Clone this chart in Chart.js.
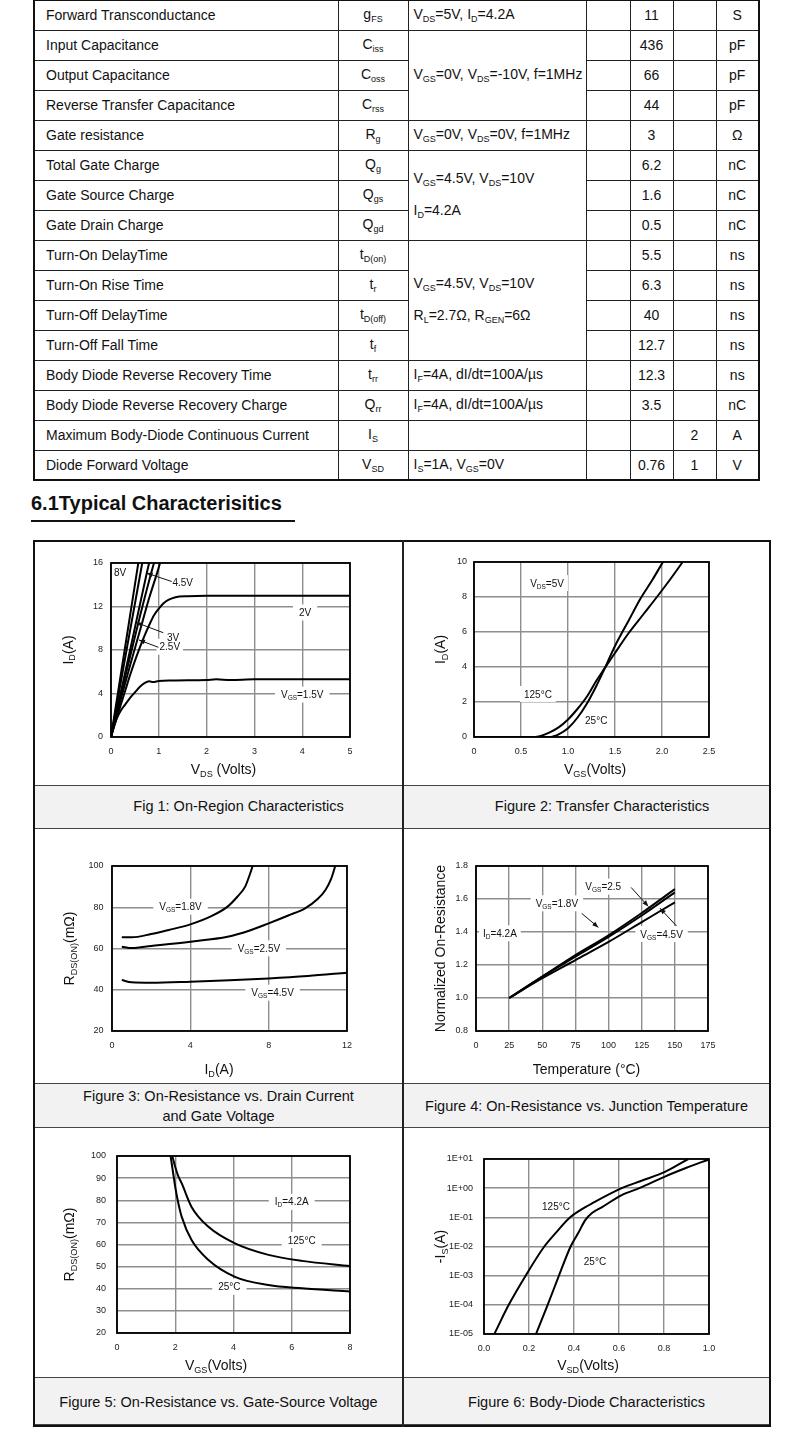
<!DOCTYPE html>
<html><head><meta charset="utf-8">
<script src="https://cdn.jsdelivr.net/npm/chart.js@4.4.0/dist/chart.umd.min.js"></script>
<style>
html,body{margin:0;padding:0;background:#fff;}
body{width:790px;height:1436px;position:relative;overflow:hidden;font-family:'Liberation Sans',Arial,Helvetica,sans-serif;color:#111;}
table.spec{position:absolute;left:33px;top:-1px;border-collapse:collapse;table-layout:fixed;font-size:14px;border:2px solid #111;}
table.spec td{border:1px solid #222;padding:0;white-space:nowrap;line-height:16px;}
table.spec tr{height:30px;}
td.n{padding-left:11px !important;}
td.c{text-align:center;}
td.k{padding-left:5px !important;}
.s{font-size:9px;position:relative;top:3px;}
.ml{line-height:30px !important;}
#h{position:absolute;left:31px;top:492px;font-size:20px;font-weight:bold;line-height:22px;}
#hu{position:absolute;left:31px;top:520px;width:264px;height:2px;background:#111;}
#grid{position:absolute;left:33px;top:540px;width:738px;height:887px;border:2px solid #111;box-sizing:border-box;}
#vdiv{position:absolute;left:402px;top:540px;width:2px;height:887px;background:#222;}
.band{position:absolute;left:35px;width:734px;background:#f2f2f2;border-top:1px solid #444;border-bottom:1px solid #444;box-sizing:border-box;}
.cap{position:absolute;text-align:center;font-size:14.5px;line-height:20px;}
canvas{position:absolute;}
</style></head>
<body>
<table class="spec">
<colgroup><col style="width:304px"><col style="width:70px"><col style="width:178px"><col style="width:44px"><col style="width:43px"><col style="width:43px"><col style="width:43px"></colgroup>
<tr><td class="n">Forward Transconductance</td><td class="c">g<span class="s">FS</span></td><td class="k">V<span class="s">DS</span>=5V, I<span class="s">D</span>=4.2A</td><td></td><td class="c">11</td><td></td><td class="c">S</td></tr>
<tr><td class="n">Input Capacitance</td><td class="c">C<span class="s">iss</span></td><td class="k" rowspan="3">V<span class="s">GS</span>=0V, V<span class="s">DS</span>=-10V, f=1MHz</td><td></td><td class="c">436</td><td></td><td class="c">pF</td></tr>
<tr><td class="n">Output Capacitance</td><td class="c">C<span class="s">oss</span></td><td></td><td class="c">66</td><td></td><td class="c">pF</td></tr>
<tr><td class="n">Reverse Transfer Capacitance</td><td class="c">C<span class="s">rss</span></td><td></td><td class="c">44</td><td></td><td class="c">pF</td></tr>
<tr><td class="n">Gate resistance</td><td class="c">R<span class="s">g</span></td><td class="k">V<span class="s">GS</span>=0V, V<span class="s">DS</span>=0V, f=1MHz</td><td></td><td class="c">3</td><td></td><td class="c">Ω</td></tr>
<tr><td class="n">Total Gate Charge</td><td class="c">Q<span class="s">g</span></td><td class="k" rowspan="3"><div class="ml">V<span class="s">GS</span>=4.5V, V<span class="s">DS</span>=10V<br>I<span class="s">D</span>=4.2A</div></td><td></td><td class="c">6.2</td><td></td><td class="c">nC</td></tr>
<tr><td class="n">Gate Source Charge</td><td class="c">Q<span class="s">gs</span></td><td></td><td class="c">1.6</td><td></td><td class="c">nC</td></tr>
<tr><td class="n">Gate Drain Charge</td><td class="c">Q<span class="s">gd</span></td><td></td><td class="c">0.5</td><td></td><td class="c">nC</td></tr>
<tr><td class="n">Turn-On DelayTime</td><td class="c">t<span class="s">D(on)</span></td><td class="k" rowspan="4"><div class="ml">V<span class="s">GS</span>=4.5V, V<span class="s">DS</span>=10V<br>R<span class="s">L</span>=2.7Ω, R<span class="s">GEN</span>=6Ω</div></td><td></td><td class="c">5.5</td><td></td><td class="c">ns</td></tr>
<tr><td class="n">Turn-On Rise Time</td><td class="c">t<span class="s">r</span></td><td></td><td class="c">6.3</td><td></td><td class="c">ns</td></tr>
<tr><td class="n">Turn-Off DelayTime</td><td class="c">t<span class="s">D(off)</span></td><td></td><td class="c">40</td><td></td><td class="c">ns</td></tr>
<tr><td class="n">Turn-Off Fall Time</td><td class="c">t<span class="s">f</span></td><td></td><td class="c">12.7</td><td></td><td class="c">ns</td></tr>
<tr><td class="n">Body Diode Reverse Recovery Time</td><td class="c">t<span class="s">rr</span></td><td class="k">I<span class="s">F</span>=4A, dI/dt=100A/µs</td><td></td><td class="c">12.3</td><td></td><td class="c">ns</td></tr>
<tr><td class="n">Body Diode Reverse Recovery Charge</td><td class="c">Q<span class="s">rr</span></td><td class="k">I<span class="s">F</span>=4A, dI/dt=100A/µs</td><td></td><td class="c">3.5</td><td></td><td class="c">nC</td></tr>
<tr><td class="n">Maximum Body-Diode Continuous Current</td><td class="c">I<span class="s">S</span></td><td></td><td></td><td></td><td class="c">2</td><td class="c">A</td></tr>
<tr><td class="n">Diode Forward Voltage</td><td class="c">V<span class="s">SD</span></td><td class="k">I<span class="s">S</span>=1A, V<span class="s">GS</span>=0V</td><td></td><td class="c">0.76</td><td class="c">1</td><td class="c">V</td></tr>
</table>

<div id="h">6.1Typical Characterisitics</div>
<div id="hu"></div>

<div id="grid"></div>
<div class="band" style="top:785px;height:44px"></div>
<div class="band" style="top:1083px;height:45px"></div>
<div class="band" style="top:1377px;height:48px"></div>
<div id="vdiv"></div>

<canvas id="c1" width="367" height="243" style="left:35px;top:542px"></canvas>
<canvas id="c2" width="364" height="243" style="left:404px;top:542px"></canvas>
<canvas id="c3" width="367" height="254" style="left:35px;top:829px"></canvas>
<canvas id="c4" width="364" height="254" style="left:404px;top:829px"></canvas>
<canvas id="c5" width="367" height="249" style="left:35px;top:1128px"></canvas>
<canvas id="c6" width="364" height="249" style="left:404px;top:1128px"></canvas>

<div class="cap" style="left:35px;width:407px;top:796px">Fig 1: On-Region Characteristics</div>
<div class="cap" style="left:404px;width:396px;top:796px">Figure 2: Transfer Characteristics</div>
<div class="cap" style="left:35px;width:367px;top:1086px">Figure 3: On-Resistance vs. Drain Current<br>and Gate Voltage</div>
<div class="cap" style="left:404px;width:365px;top:1096px">Figure 4: On-Resistance vs. Junction Temperature</div>
<div class="cap" style="left:35px;width:367px;top:1392px">Figure 5: On-Resistance vs. Gate-Source Voltage</div>
<div class="cap" style="left:404px;width:365px;top:1392px">Figure 6: Body-Diode Characteristics</div>

<script>
// ---------- Figure 1: On-Region Characteristics (VDS [V], ID [A]) ----------
const fig1_vgs8   = [[0,0],[0.3,8.4],[0.6,16.8]];
const fig1_vgsUnl = [[0,0],[0.33,8.1],[0.67,16.4]];
const fig1_vgs45  = [[0,0],[0.4,8.0],[0.75,15.1],[0.82,16.4]];
const fig1_vgs3   = [[0,0],[0.3,5.6],[0.6,11],[0.9,16],[0.93,16.4]];
const fig1_vgs25  = [[0,0],[0.2,3.4],[0.4,6.6],[0.6,9.7],[0.8,12.8],[1.0,15.6],[1.05,16.4]];
const fig1_vgs2   = [[0,0],[0.1,1.5],[0.2,2.9],[0.3,4.3],[0.4,5.7],[0.5,7.0],[0.6,8.2],[0.7,9.3],[0.8,10.3],[0.9,11.2],[1.0,11.8],[1.1,12.3],[1.2,12.6],[1.35,12.85],[1.6,12.95],[2,13],[3,13],[4,13],[5,13]];
const fig1_vgs15  = [[0,0],[0.05,0.8],[0.12,1.7],[0.2,2.4],[0.3,3.0],[0.4,3.6],[0.5,4.1],[0.6,4.6],[0.7,4.95],[0.8,5.12],[0.88,5.05],[1.0,5.15],[1.3,5.2],[2,5.25],[2.2,5.3],[2.5,5.25],[3,5.3],[4,5.3],[5,5.3]];

// ---------- Figure 2: Transfer Characteristics (VGS [V], ID [A]) ----------
const fig2_t125 = [[0,0],[0.6,0],[0.7,0.05],[0.8,0.25],[0.9,0.55],[1.0,1.0],[1.1,1.6],[1.2,2.3],[1.3,3.2],[1.38,3.85],[1.5,4.8],[1.64,5.9],[1.8,7.0],[1.96,8.1],[2.1,9.1],[2.22,10]];
const fig2_t25  = [[0,0],[0.8,0],[0.85,0.05],[0.9,0.15],[1.0,0.5],[1.1,1.1],[1.2,1.9],[1.3,2.9],[1.38,3.8],[1.5,5.2],[1.65,6.7],[1.77,7.9],[1.9,9.0],[2.01,10]];

// ---------- Figure 3: RDS(ON) vs ID (ID [A], R [mΩ]) ----------
const fig3_vgs18 = [[0.5,65.4],[1.0,65.4],[2.0,67],[2.9,69],[4.0,71.7],[5.1,75.8],[5.9,80.3],[6.4,85.1],[6.8,90],[7.06,96.5],[7.18,100]];
const fig3_vgs25 = [[0.5,60.9],[1.0,60.2],[2.0,61.2],[4.0,63.3],[5.9,65.7],[7.0,68.6],[8.0,72.2],[9.0,76],[9.86,79.5],[10.5,84],[10.9,88.4],[11.2,94],[11.4,100]];
const fig3_vgs45 = [[0.5,44.7],[1.0,43.6],[2.0,43.4],[4.0,43.9],[6.0,44.6],[8.0,45.5],[10.0,46.7],[12.0,48.3]];

// ---------- Figure 4: Normalized RDS(ON) vs Temperature (°C) ----------
const fig4_vgs18 = [[25,1],[50,1.13],[75,1.25],[100,1.37],[125,1.5],[150,1.64]];
const fig4_vgs25 = [[25,1],[50,1.13],[75,1.26],[100,1.38],[125,1.515],[150,1.66]];
const fig4_vgs45 = [[25,1],[50,1.12],[75,1.23],[100,1.34],[125,1.46],[150,1.58]];

// ---------- Figure 5: RDS(ON) vs VGS (VGS [V], R [mΩ]) ----------
const fig5_t125 = [[1.9,100],[2.0,95],[2.1,91],[2.22,87.7],[2.56,77],[3.14,68],[4.05,60.5],[5.2,55.3],[6.35,52.6],[8.0,50.3]];
const fig5_t25  = [[1.84,100],[1.92,93],[2.0,86],[2.1,79],[2.22,72.6],[2.56,62],[3.14,53],[4.05,45.4],[5.2,41.7],[6.35,40.2],[8.0,38.7]];

// ---------- Figure 6: Body-Diode (VSD [V], -IS [A]) ----------
const fig6_t125 = [[0.046,1e-5],[0.11,1e-4],[0.185,1e-3],[0.268,1e-2],[0.32,3e-2],[0.383,1e-1],[0.43,0.18],[0.48,0.3],[0.612,1],[0.7,1.8],[0.804,3.6],[0.908,10]];
const fig6_t25  = [[0.231,1e-5],[0.283,1e-4],[0.333,1e-3],[0.385,1e-2],[0.42,3e-2],[0.45,0.08],[0.48,0.14],[0.523,0.22],[0.612,0.58],[0.69,1.0],[0.804,2.5],[0.9,5],[1.0,9.7]];
const fig6_yTickVals = [1e-5,1e-4,1e-3,1e-2,1e-1,1,10];

const FF = "'Liberation Sans', Arial, Helvetica, sans-serif";
const font = (s) => s + 'px ' + FF;

function parseRich(s){
  const parts=[]; const re=/_\{([^}]*)\}/g; let last=0,m;
  while((m=re.exec(s))){ if(m.index>last) parts.push([s.slice(last,m.index),false]); parts.push([m[1],true]); last=re.lastIndex; }
  if(last<s.length) parts.push([s.slice(last),false]);
  return parts;
}
function richWidth(ctx,parts,size){
  let w=0; parts.forEach(([t,sub])=>{ ctx.font=font(sub?size*0.65:size); w+=ctx.measureText(t).width; }); return w;
}
function drawRich(ctx,s,x,y,size){
  const parts=parseRich(s); const w=richWidth(ctx,parts,size);
  let cx=x-w/2; const base=y+size*0.36;
  ctx.textAlign='left'; ctx.textBaseline='alphabetic'; ctx.fillStyle='#111';
  parts.forEach(([t,sub])=>{ ctx.font=font(sub?size*0.65:size); ctx.fillText(t,cx,sub?base+size*0.2:base); cx+=ctx.measureText(t).width; });
  return w;
}

const annos = {
  c1: {
    labels: [
      {t:'8V', x:0.19, y:15.1},
      {t:'4.5V', x:1.5, y:14.2},
      {t:'2V', x:4.06, y:11.45, box:6},
      {t:'3V', x:1.3, y:9.2},
      {t:'2.5V', x:1.23, y:8.3, box:3},
      {t:'V_{GS}=1.5V', x:4.0, y:3.9, box:6}
    ],
    arrows: [
      {from:[1.27,14.3], to:[0.745,15.07]},
      {from:[1.094,9.59], to:[0.537,10.51]},
      {from:[0.99,8.25], to:[0.586,8.92]}
    ],
    xt:{t:'V_{DS} (Volts)', dx:-7, dy:32}, yt:{t:'I_{D}(A)', dx:-43.5}
  },
  c2: {
    labels: [
      {t:'V_{DS}=5V', x:0.777, y:8.8, box:4},
      {t:'125°C', x:0.68, y:2.46, box:4},
      {t:'25°C', x:1.30, y:0.97}
    ],
    arrows: [],
    xt:{t:'V_{GS}(Volts)', dx:3.5, dy:32}, yt:{t:'I_{D}(A)', dx:-34}
  },
  c3: {
    labels: [
      {t:'V_{GS}=1.8V', x:3.5, y:80.3, box:6},
      {t:'V_{GS}=2.5V', x:7.5, y:60.1, box:6},
      {t:'V_{GS}=4.5V', x:8.2, y:38.6, box:6}
    ],
    arrows: [],
    xt:{t:'I_{D}(A)', dx:-10.5, dy:38}, yt:{t:'R_{DS(ON)}(mΩ)', dx:-43}
  },
  c4: {
    labels: [
      {t:'V_{GS}=2.5', x:96, y:1.675, box:4},
      {t:'V_{GS}=1.8V', x:61, y:1.574, box:5},
      {t:'I_{D}=4.2A', x:18, y:1.392, box:4},
      {t:'V_{GS}=4.5V', x:140, y:1.388, box:5}
    ],
    arrows: [
      {from:[117,1.67], to:[130,1.555]},
      {from:[79.7,1.513], to:[92.3,1.428]},
      {from:[151.3,1.436], to:[138.8,1.544]}
    ],
    xt:{t:'Temperature (°C)', dx:-5.5, dy:38}, yt:{t:'Normalized On-Resistance', dx:-36}
  },
  c5: {
    labels: [
      {t:'I_{D}=4.2A', x:6.0, y:79.3, box:6},
      {t:'125°C', x:6.34, y:62, box:6},
      {t:'25°C', x:3.86, y:40.9, box:6}
    ],
    arrows: [],
    xt:{t:'V_{GS}(Volts)', dx:-17.5, dy:32}, yt:{t:'R_{DS(ON)}(mΩ)', dx:-48}
  },
  c6: {
    labels: [
      {t:'125°C', x:0.32, y:0.23},
      {t:'25°C', x:0.493, y:3e-3}
    ],
    arrows: [],
    xt:{t:'V_{SD}(Volts)', dx:-8.5, dy:31}, yt:{t:'-I_{S}(A)', dx:-44}
  }
};

const LBL = 10;
const annoPlugin = {
  id:'anno',
  beforeDatasetsDraw(chart){
    const a=annos[chart.canvas.id]; if(!a) return;
    const ctx=chart.ctx, xs=chart.scales.x, ys=chart.scales.y;
    ctx.save();
    a.labels.forEach(l=>{
      if(!l.box) return;
      const w=richWidth(ctx,parseRich(l.t),LBL);
      const px=xs.getPixelForValue(l.x), py=ys.getPixelForValue(l.y);
      ctx.fillStyle='#fff';
      ctx.fillRect(px-w/2-l.box, py-LBL/2-3, w+2*l.box, LBL+6);
    });
    ctx.restore();
  },
  afterDatasetsDraw(chart){
    const a=annos[chart.canvas.id]; if(!a) return;
    const ctx=chart.ctx, ca=chart.chartArea, xs=chart.scales.x, ys=chart.scales.y;
    ctx.save();
    ctx.strokeStyle='#000'; ctx.lineWidth=1.8;
    ctx.strokeRect(ca.left, ca.top, ca.right-ca.left, ca.bottom-ca.top);
    a.labels.forEach(l=>{ drawRich(ctx,l.t,xs.getPixelForValue(l.x),ys.getPixelForValue(l.y),LBL); });
    a.arrows.forEach(ar=>{
      const x1=xs.getPixelForValue(ar.from[0]), y1=ys.getPixelForValue(ar.from[1]);
      const x2=xs.getPixelForValue(ar.to[0]), y2=ys.getPixelForValue(ar.to[1]);
      ctx.strokeStyle='#111'; ctx.lineWidth=1;
      ctx.beginPath(); ctx.moveTo(x1,y1); ctx.lineTo(x2,y2); ctx.stroke();
      const ang=Math.atan2(y2-y1,x2-x1), L=6, W=2.4;
      ctx.fillStyle='#111'; ctx.beginPath();
      ctx.moveTo(x2,y2);
      ctx.lineTo(x2-L*Math.cos(ang)+W*Math.sin(ang), y2-L*Math.sin(ang)-W*Math.cos(ang));
      ctx.lineTo(x2-L*Math.cos(ang)-W*Math.sin(ang), y2-L*Math.sin(ang)+W*Math.cos(ang));
      ctx.closePath(); ctx.fill();
    });
    // axis titles
    const cx=(ca.left+ca.right)/2, cy=(ca.top+ca.bottom)/2;
    drawRich(ctx,a.xt.t,cx+a.xt.dx,ca.bottom+a.xt.dy,14);
    ctx.translate(ca.left+a.yt.dx, cy); ctx.rotate(-Math.PI/2);
    drawRich(ctx,a.yt.t,0,0,14);
    ctx.restore();
  }
};

function fmtE(v){ const e=Math.round(Math.log10(v)); const a=Math.abs(e); return '1E'+(e<0?'-':'+')+(a<10?'0':'')+a; }

const GRID = {color:'#8e8e8e', lineWidth:1.4, drawTicks:false};

function mk(id, series, o){
  const xTicks={stepSize:o.x.step, autoSkip:false, maxRotation:0, padding:9, color:'#222', font:{size:9, family:FF}};
  if(o.x.fmt) xTicks.callback=o.x.fmt;
  const yTicks={autoSkip:false, padding:o.yPad, color:'#222', font:{size:9, family:FF}};
  if(o.y.step) yTicks.stepSize=o.y.step;
  if(o.y.fmt) yTicks.callback=o.y.fmt;
  const yScale={type:o.y.log?'logarithmic':'linear', min:o.y.min, max:o.y.max, ticks:yTicks,
    grid:GRID, border:{display:false},
    afterFit:(s)=>{s.width=o.yW;}};
  if(o.y.tickVals) yScale.afterBuildTicks=(s)=>{ s.ticks=o.y.tickVals.map(v=>({value:v})); };
  return new Chart(document.getElementById(id), {
    type:'line',
    data:{datasets:series.map(([label,pts])=>({label, data:pts.map(p=>({x:p[0],y:p[1]})), borderColor:'#000', borderWidth:2, pointRadius:0, fill:false, cubicInterpolationMode:'monotone'}))},
    options:{
      responsive:false, animation:false, devicePixelRatio:1,
      layout:{padding:o.pad},
      plugins:{legend:{display:false}, tooltip:{enabled:false}},
      scales:{
        x:{type:'linear', min:o.x.min, max:o.x.max, ticks:xTicks,
           grid:GRID, border:{display:false},
           afterFit:(s)=>{s.height=o.xH;}},
        y:yScale
      }
    },
    plugins:[annoPlugin]
  });
}

mk('c1', [['8V',fig1_vgs8],['unlabeled',fig1_vgsUnl],['4.5V',fig1_vgs45],['3V',fig1_vgs3],['2.5V',fig1_vgs25],['2V',fig1_vgs2],['1.5V',fig1_vgs15]],
  {x:{min:0,max:5,step:1}, y:{min:0,max:16,step:4}, pad:{left:0,right:52,top:21,bottom:0}, yW:76, xH:48, yPad:8});
mk('c2', [['125°C',fig2_t125],['25°C',fig2_t25]],
  {x:{min:0,max:2.5,step:0.5}, y:{min:0,max:10,step:2}, pad:{left:0,right:59,top:20,bottom:0}, yW:70, xH:48, yPad:7});
mk('c3', [['1.8V',fig3_vgs18],['2.5V',fig3_vgs25],['4.5V',fig3_vgs45]],
  {x:{min:0,max:12,step:4}, y:{min:20,max:100,step:20}, pad:{left:0,right:55,top:37,bottom:0}, yW:77, xH:52, yPad:8.5});
mk('c4', [['1.8V',fig4_vgs18],['2.5V',fig4_vgs25],['4.5V',fig4_vgs45]],
  {x:{min:0,max:175,step:25}, y:{min:0.8,max:1.8,step:0.2}, pad:{left:0,right:60,top:37,bottom:0}, yW:72, xH:52, yPad:8});
mk('c5', [['125°C',fig5_t125],['25°C',fig5_t25]],
  {x:{min:0,max:8,step:2}, y:{min:20,max:100,step:10}, pad:{left:0,right:52,top:28,bottom:0}, yW:82, xH:44, yPad:11});
mk('c6', [['125°C',fig6_t125],['25°C',fig6_t25]],
  {x:{min:0,max:1,step:0.2,fmt:(v)=>Number(v).toFixed(1)}, y:{log:true,min:1e-5,max:10,tickVals:fig6_yTickVals,fmt:(v)=>fmtE(v)}, pad:{left:0,right:59,top:31,bottom:0}, yW:80, xH:43, yPad:11});
</script>
</body></html>
